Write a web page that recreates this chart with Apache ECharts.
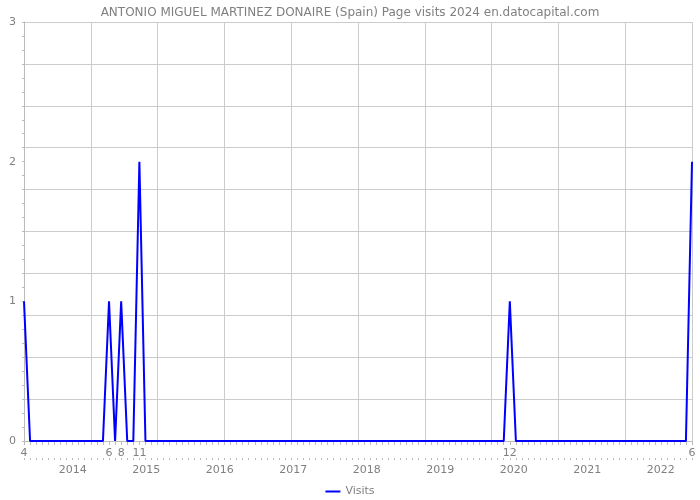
<!DOCTYPE html>
<html>
<head>
<meta charset="utf-8">
<script src="https://cdn.jsdelivr.net/npm/echarts@6/dist/echarts.min.js"></script>
<style>html,body{margin:0;padding:0;background:#fff}#c{width:700px;height:500px}</style>
</head>
<body>
<div id="c"></div>
<script>
// Months from 2013-04 to 2022-06
const startYear = 2013, startMonth = 4, monthCount = 111;
const months = [];
for (let i = 0; i < monthCount; i++) {
  const m = (startMonth - 1 + i) % 12 + 1;
  const y = startYear + Math.floor((startMonth - 1 + i) / 12);
  months.push(y + '-' + (m < 10 ? '0' + m : m));
}
// Non-zero visit months; all other months are 0
const visitMonths = ['2013-04', '2014-06', '2014-08', '2014-11', '2019-12', '2022-06'];
const visitValues = [1, 1, 1, 2, 1, 2];
const visits = months.map(function (mk) {
  const k = visitMonths.indexOf(mk);
  return k >= 0 ? visitValues[k] : 0;
});
const yearLabels = [2014, 2015, 2016, 2017, 2018, 2019, 2020, 2021, 2022];
const yLabels = [0, 1, 2, 3];

const FONT = 'DejaVu Sans';
const GRAY = '#808080';
const chart = echarts.init(document.getElementById('c'), null, { renderer: 'canvas' });
chart.setOption({
  animation: false,
  title: {
    text: 'ANTONIO MIGUEL MARTINEZ DONAIRE (Spain) Page visits 2024 en.datocapital.com',
    left: 'center', top: 2,
    textStyle: { fontFamily: FONT, fontSize: 12, fontWeight: 'normal', color: GRAY }
  },
  legend: {
    top: 486, left: 'center', padding: 0,
    icon: 'rect', itemWidth: 15, itemHeight: 2, itemGap: 5,
    textStyle: { fontFamily: FONT, fontSize: 11, color: GRAY },
    data: ['Visits']
  },
  grid: { left: 24, right: 8, top: 22, bottom: 59, containLabel: false },
  xAxis: [
    {
      type: 'category', data: months, boundaryGap: false,
      axisLine: { show: true, lineStyle: { color: '#bbb' } },
      axisTick: { show: true, interval: 0, length: 4, lineStyle: { color: '#bbb' } },
      splitLine: { show: true, interval: 10, lineStyle: { color: '#ccc', width: 1 } },
      axisLabel: {
        interval: 0, margin: 7, fontFamily: FONT, fontSize: 11, color: GRAY,
        formatter: function (v, i) {
          return visits[i] > 0 ? String(parseInt(v.slice(5), 10)) : '';
        }
      }
    },
    {
      type: 'category', data: months, boundaryGap: false, position: 'bottom', offset: 17,
      axisLine: { show: false },
      axisTick: { show: true, interval: 0, length: 2, lineStyle: { color: '#bbb' } },
      splitLine: { show: false },
      axisLabel: { show: false }
    },
    {
      type: 'value', position: 'bottom', offset: 20, min: 2013.337, max: 2022.425,
      axisLine: { show: false }, axisTick: { show: false }, splitLine: { show: false },
      axisLabel: {
        customValues: yearLabels, margin: 4, fontFamily: FONT, fontSize: 11, color: GRAY,
        formatter: function (v) { return String(Math.round(v)); }
      }
    }
  ],
  yAxis: {
    type: 'value', min: 0, max: 3, interval: 0.3,
    axisLine: { show: true, lineStyle: { color: '#bbb' } },
    axisTick: { show: true, length: 2, lineStyle: { color: '#bbb' } },
    minorTick: { show: true, splitNumber: 3, length: 2, lineStyle: { color: '#bbb' } },
    splitLine: { show: true, lineStyle: { color: '#ccc', width: 1 } },
    axisLabel: {
      customValues: yLabels, margin: 8, fontFamily: FONT, fontSize: 11, color: GRAY
    }
  },
  series: [{
    name: 'Visits', type: 'line', xAxisIndex: 0, data: visits,
    symbol: 'none', showSymbol: false,
    lineStyle: { color: '#0000ff', width: 2 },
    itemStyle: { color: '#0000ff' }
  }]
});
</script>
</body>
</html>
